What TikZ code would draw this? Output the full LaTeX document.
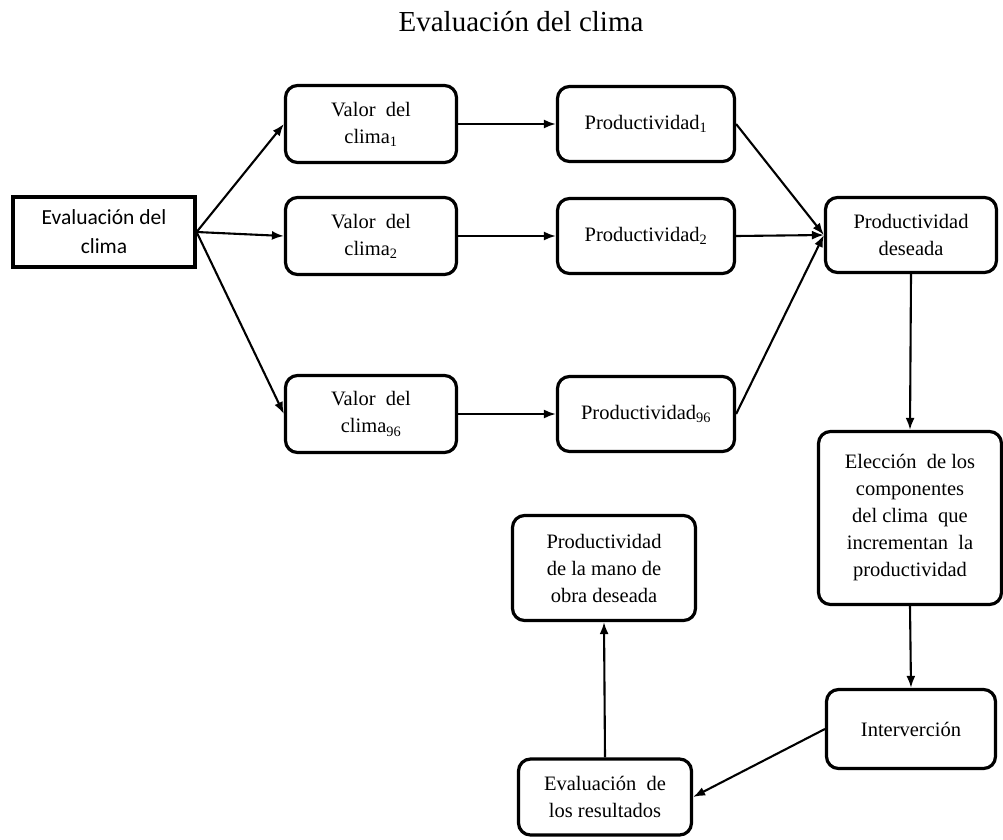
\documentclass[tikz,border=0pt]{standalone}
\usepackage{fontspec}
\setmainfont{Liberation Serif}
\newfontfamily\calibri{Carlito}
\usetikzlibrary{arrows.meta}
\begin{document}
\begin{tikzpicture}[x=1pt,y=-1pt,
    caja/.style={draw,line width=3.2pt,rounded corners=12pt,align=center,inner sep=0pt,
        font=\fontsize{20.5}{27}\selectfont},
    flecha/.style={line width=2.1pt,-{Latex[length=12pt,width=9pt]}}]
    \useasboundingbox (0,0) rectangle (1003,839);
    \node[font=\fontsize{29}{34}\selectfont] (titulo) at (521,22) {Evaluación del clima};
    \node[draw,line width=3.2pt,minimum width=182pt,minimum height=70pt,align=center,inner sep=0pt,
        font=\calibri\fontsize{21.5}{29}\selectfont] (eval) at (104,232) {Evaluación del\\clima};
    \foreach \n/\y in {1/124,2/236,96/414} {
        \node[caja,minimum width=171pt,minimum height=77pt] (valor\n) at (371,\y) {Valor\ \ del\\clima\textsubscript{\n}};
        \node[caja,minimum width=177pt,minimum height=75pt] (prod\n) at (646,\y) {Productividad\textsubscript{\n}};
    }
    \node[caja,minimum width=171pt,minimum height=75pt] (deseada) at (911,235) {Productividad\\deseada};
    \node[caja,minimum width=183pt,minimum height=173pt] (eleccion) at (910,518)
        {Elección\ \ de los\\componentes\\del clima\ \ que\\incrementan\ \ la\\productividad};
    \node[caja,minimum width=169pt,minimum height=79pt] (interv) at (911,729) {Interverción};
    \node[caja,minimum width=173pt,minimum height=76pt] (resultados) at (605,797) {Evaluación\ \ de\\los resultados};
    \node[caja,minimum width=183pt,minimum height=105pt] (manoobra) at (604,568)
        {Productividad\\de la mano de\\obra deseada};
    \foreach \n in {1,2,96} {
        \draw[flecha] (eval.east) -- (valor\n.west);
        \draw[flecha] (valor\n.east) -- (prod\n.west);
        \draw[flecha] (prod\n.east) -- (deseada.west);
    }
    \draw[flecha] (deseada.south) -- (eleccion.north);
    \draw[flecha] (eleccion.south) -- (interv.north);
    \draw[flecha] (interv.west) -- (resultados.east);
    \draw[flecha] (resultados.north) -- (manoobra.south);
\end{tikzpicture}
\end{document}
